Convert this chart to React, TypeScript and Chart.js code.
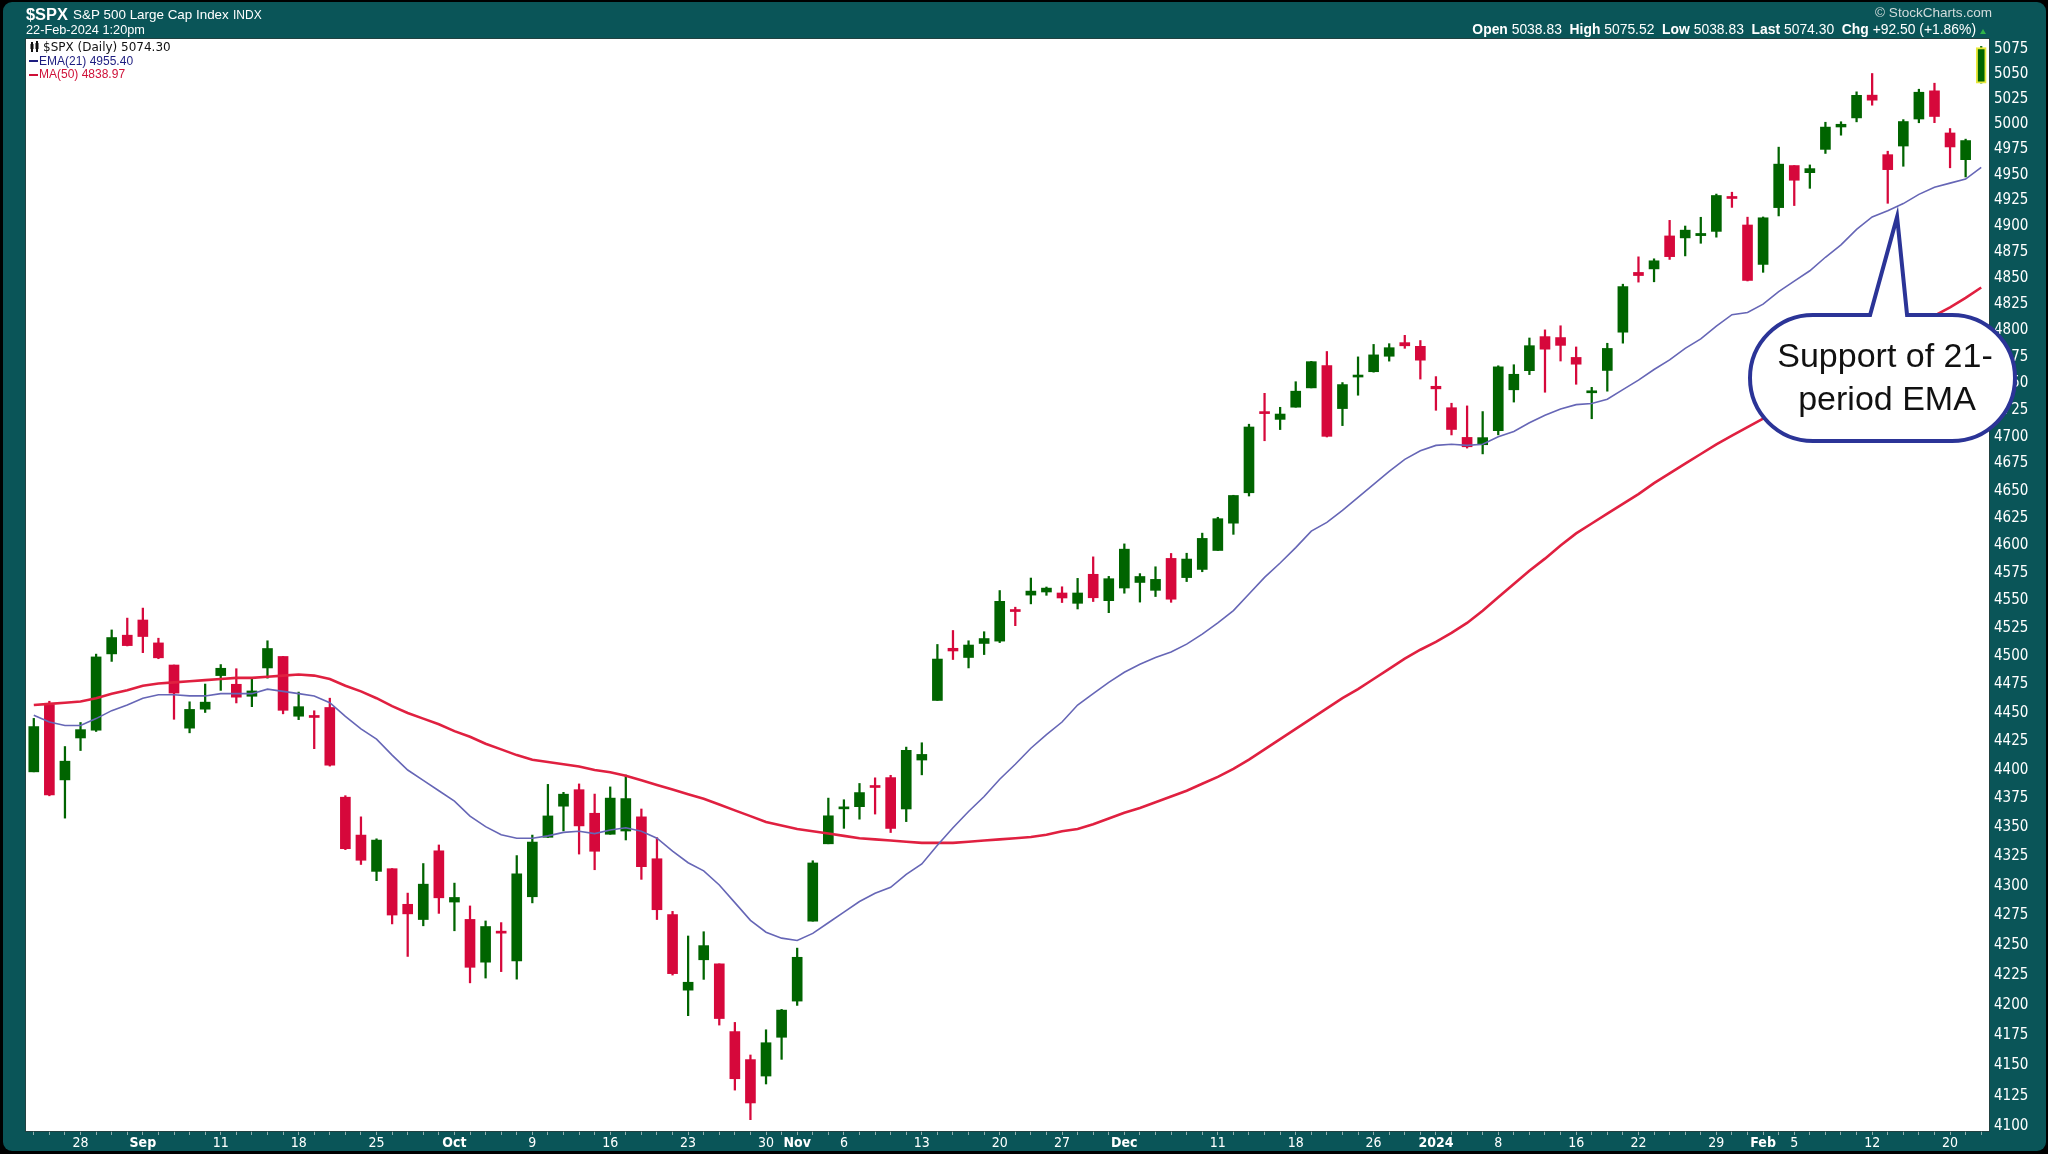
import { useEffect, useRef } from 'react';
import { Chart, registerables } from 'chart.js';
Chart.register(...registerables);

// ---------------- DATA ----------------
const dates = ['Aug 23','Aug 24','Aug 25','Aug 28','Aug 29','Aug 30','Aug 31','Sep 1','Sep 5','Sep 6','Sep 7','Sep 8','Sep 11','Sep 12','Sep 13','Sep 14','Sep 15','Sep 18','Sep 19','Sep 20','Sep 21','Sep 22','Sep 25','Sep 26','Sep 27','Sep 28','Sep 29','Oct 2','Oct 3','Oct 4','Oct 5','Oct 6','Oct 9','Oct 10','Oct 11','Oct 12','Oct 13','Oct 16','Oct 17','Oct 18','Oct 19','Oct 20','Oct 23','Oct 24','Oct 25','Oct 26','Oct 27','Oct 30','Oct 31','Nov 1','Nov 2','Nov 3','Nov 6','Nov 7','Nov 8','Nov 9','Nov 10','Nov 13','Nov 14','Nov 15','Nov 16','Nov 17','Nov 20','Nov 21','Nov 22','Nov 24','Nov 27','Nov 28','Nov 29','Nov 30','Dec 1','Dec 4','Dec 5','Dec 6','Dec 7','Dec 8','Dec 11','Dec 12','Dec 13','Dec 14','Dec 15','Dec 18','Dec 19','Dec 20','Dec 21','Dec 22','Dec 26','Dec 27','Dec 28','Dec 29','Jan 2','Jan 3','Jan 4','Jan 5','Jan 8','Jan 9','Jan 10','Jan 11','Jan 12','Jan 16','Jan 17','Jan 18','Jan 19','Jan 22','Jan 23','Jan 24','Jan 25','Jan 26','Jan 29','Jan 30','Jan 31','Feb 1','Feb 2','Feb 5','Feb 6','Feb 7','Feb 8','Feb 9','Feb 12','Feb 13','Feb 14','Feb 15','Feb 16','Feb 20','Feb 21','Feb 22'];

const open = [
  4396.4, 4455.2, 4389.4, 4426.0, 4432.8, 4500.3, 4517.0,
  4530.6, 4510.1, 4490.4, 4434.6, 4451.3, 4481.0, 4473.3, 4462.7, 4487.8, 4498.0, 4445.1, 4445.4, 4452.8, 4374.4, 4341.7, 4310.6, 4312.9, 4282.6, 4269.7, 4328.2,
  4284.5, 4269.8, 4233.8, 4259.3, 4234.8, 4289.0, 4339.8, 4366.6, 4380.9, 4360.5, 4342.4, 4345.2, 4357.4, 4321.4, 4273.9, 4210.4, 4235.8, 4232.4, 4176.0, 4152.9, 4139.4, 4171.3,
  4201.3, 4268.3, 4334.2, 4364.3, 4366.2, 4384.4, 4391.4, 4364.2, 4406.7, 4459.0, 4505.3, 4497.1, 4509.6, 4511.7, 4538.8, 4553.0, 4555.8, 4554.9, 4545.6, 4571.8, 4548.0,
  4559.4, 4564.4, 4557.3, 4586.2, 4568.8, 4576.2, 4593.4, 4618.3, 4646.2, 4721.0, 4714.2, 4725.6, 4743.7, 4764.7, 4724.3, 4753.9, 4758.9, 4773.5, 4786.4, 4782.9,
  4745.2, 4725.1, 4697.4, 4690.6, 4703.7, 4741.9, 4759.9, 4792.1, 4791.2, 4772.4, 4739.1, 4760.1, 4796.3, 4853.4, 4856.8, 4888.6, 4886.7, 4888.9, 4893.0, 4925.9, 4899.2,
  4861.1, 4916.1, 4957.2, 4950.2, 4973.1, 4995.2, 5004.2, 5026.8, 4967.9, 4976.4, 5003.1, 5031.1, 4989.3, 4963.0, 5038.83,
];
const high = [
  4443.2, 4458.3, 4418.5, 4439.6, 4500.1, 4521.7, 4532.3,
  4541.3, 4514.3, 4490.4, 4457.8, 4473.5, 4490.8, 4487.1, 4479.4, 4512.0, 4498.0, 4466.4, 4449.9, 4461.0, 4375.7, 4357.4, 4338.5, 4313.0, 4292.1, 4317.3, 4333.2,
  4300.6, 4281.2, 4268.5, 4267.1, 4324.1, 4341.7, 4385.5, 4378.6, 4385.9, 4377.1, 4383.3, 4393.6, 4364.2, 4339.5, 4276.6, 4255.8, 4259.4, 4232.4, 4183.6, 4156.7, 4177.5, 4194.4,
  4245.6, 4319.7, 4373.6, 4372.2, 4386.3, 4391.2, 4393.4, 4418.0, 4421.8, 4508.7, 4521.2, 4512.0, 4520.1, 4557.1, 4542.1, 4568.4, 4560.3, 4560.5, 4568.1, 4587.6, 4569.9,
  4599.4, 4572.4, 4578.6, 4590.7, 4590.9, 4609.2, 4623.7, 4643.9, 4709.7, 4738.6, 4725.5, 4749.5, 4768.7, 4778.0, 4748.7, 4772.9, 4784.7, 4785.4, 4793.3, 4788.4,
  4754.3, 4729.3, 4726.8, 4721.5, 4764.5, 4765.5, 4790.8, 4798.5, 4802.4, 4782.3, 4744.2, 4785.8, 4842.1, 4868.4, 4866.5, 4903.7, 4898.2, 4906.7, 4929.3, 4931.1, 4906.8,
  4907.0, 4975.3, 4957.2, 4957.8, 4999.9, 5000.4, 5030.1, 5048.4, 4971.3, 5002.5, 5032.7, 5038.7, 4993.7, 4983.2, 5075.52,
];
const low = [
  4396.4, 4375.6, 4356.3, 4415.0, 4431.7, 4493.6, 4507.4,
  4501.4, 4496.0, 4442.4, 4430.5, 4448.4, 4467.9, 4456.8, 4453.5, 4478.7, 4447.2, 4442.1, 4416.6, 4401.4, 4329.2, 4316.5, 4302.7, 4266.0, 4238.6, 4264.4, 4274.9,
  4260.2, 4216.5, 4220.5, 4225.9, 4219.6, 4283.8, 4339.6, 4345.3, 4325.4, 4312.0, 4342.4, 4337.5, 4303.8, 4269.7, 4223.0, 4189.2, 4219.4, 4181.4, 4127.9, 4103.8, 4132.9, 4153.1,
  4197.7, 4268.3, 4334.2, 4347.5, 4355.4, 4359.8, 4343.9, 4353.3, 4393.8, 4459.0, 4495.3, 4487.8, 4499.7, 4510.4, 4525.5, 4545.1, 4552.8, 4546.3, 4540.5, 4547.2, 4537.2,
  4554.7, 4546.7, 4551.7, 4546.5, 4565.2, 4574.1, 4593.4, 4608.1, 4643.2, 4694.3, 4704.7, 4725.6, 4743.7, 4697.8, 4708.4, 4736.8, 4758.5, 4768.9, 4781.0, 4752.0,
  4722.7, 4699.7, 4687.5, 4682.1, 4699.8, 4730.4, 4756.2, 4739.6, 4769.0, 4747.1, 4714.8, 4740.6, 4785.9, 4844.1, 4844.4, 4865.9, 4869.3, 4881.5, 4887.4, 4916.3, 4845.2,
  4853.5, 4908.0, 4918.1, 4934.9, 4969.1, 4987.1, 5000.3, 5016.8, 4920.3, 4956.5, 4999.4, 4999.5, 4955.0, 4946.0, 5038.83,
];
const close = [
  4436.0, 4376.3, 4405.7, 4433.3, 4497.6, 4514.9, 4507.7,
  4515.8, 4496.8, 4465.5, 4451.1, 4457.5, 4487.5, 4461.9, 4467.4, 4505.1, 4450.3, 4453.5, 4444.0, 4402.2, 4330.0, 4320.1, 4337.4, 4273.5, 4274.5, 4299.7, 4288.1,
  4288.4, 4229.5, 4263.8, 4258.2, 4308.5, 4335.7, 4358.2, 4377.0, 4349.6, 4327.8, 4373.6, 4373.2, 4314.6, 4278.0, 4224.2, 4217.0, 4247.7, 4186.8, 4137.2, 4117.4, 4166.8, 4193.8,
  4237.9, 4317.8, 4358.3, 4366.0, 4378.4, 4382.8, 4347.4, 4415.2, 4411.6, 4495.7, 4502.9, 4508.2, 4514.0, 4547.4, 4538.2, 4556.6, 4559.3, 4550.4, 4554.9, 4550.6, 4567.8,
  4594.6, 4569.8, 4567.2, 4549.3, 4585.6, 4604.4, 4622.4, 4643.7, 4707.1, 4719.6, 4719.2, 4740.6, 4768.4, 4698.4, 4746.8, 4754.6, 4774.8, 4781.6, 4783.4, 4769.8,
  4742.8, 4704.8, 4688.7, 4697.2, 4763.5, 4756.5, 4783.5, 4780.2, 4783.8, 4766.0, 4739.2, 4780.9, 4839.8, 4850.4, 4864.6, 4868.6, 4894.2, 4891.0, 4927.9, 4925.0, 4845.7,
  4906.2, 4958.6, 4942.8, 4954.2, 4995.1, 4997.9, 5026.6, 5021.8, 4953.2, 5000.6, 5029.7, 5005.6, 4975.5, 4981.8, 5074.3,
];
const ema21 = [
  4446, 4440, 4437, 4437, 4443, 4450, 4455, 4461, 4464, 4464,
  4463, 4463, 4465, 4465, 4465, 4469, 4467, 4465, 4463, 4457,
  4445, 4434, 4425, 4411, 4398, 4389, 4380, 4371, 4358, 4349,
  4342, 4339, 4339, 4341, 4344, 4345, 4343, 4346, 4348, 4345,
  4339, 4328, 4318, 4311, 4299, 4284, 4269, 4259, 4254, 4252,
  4258, 4267, 4276, 4285, 4292, 4297, 4308, 4317, 4333, 4348,
  4362, 4375, 4390, 4403, 4417, 4429, 4440, 4455, 4465, 4475,
  4484, 4491, 4497, 4502, 4509, 4518, 4528, 4539, 4554, 4569,
  4582, 4596, 4611, 4619, 4630, 4642, 4654, 4666, 4677, 4685,
  4690, 4691, 4690, 4691, 4698, 4703, 4711, 4718, 4724, 4728,
  4729, 4733, 4742, 4751, 4761, 4770, 4781, 4790, 4802, 4813,
  4815, 4823, 4835, 4845, 4855, 4868, 4880, 4895, 4907, 4913,
  4920, 4929, 4936, 4940, 4944, 4955.4,
];
const ma50 = [
  4455, 4456, 4457, 4458, 4461, 4465, 4468, 4472, 4474, 4475,
  4476, 4477, 4478, 4479, 4479, 4480, 4481, 4482, 4481, 4478,
  4472, 4467, 4461, 4454, 4448, 4443, 4438, 4432, 4427, 4421,
  4416, 4411, 4407, 4405, 4403, 4401, 4398, 4396, 4393, 4389,
  4385, 4381, 4377, 4373, 4368, 4363, 4358, 4353, 4350, 4347,
  4345, 4343, 4341, 4339, 4338, 4337, 4336, 4335, 4335, 4335,
  4336, 4337, 4338, 4339, 4340, 4342, 4345, 4347, 4351, 4356,
  4361, 4365, 4370, 4375, 4380, 4386, 4392, 4399, 4407, 4416,
  4425, 4434, 4443, 4452, 4461, 4469, 4478, 4487, 4496, 4504,
  4511, 4519, 4528, 4539, 4551, 4563, 4575, 4586, 4598, 4609,
  4618, 4627, 4636, 4645, 4655, 4664, 4673, 4682, 4691, 4699,
  4707, 4715, 4724, 4733, 4741, 4750, 4759, 4768, 4777, 4786,
  4795, 4803, 4812, 4820, 4829, 4838.97,
];
const xTickIndex = [3, 7, 12, 17, 22, 27, 32, 37, 42, 47, 49, 52, 57, 62, 66, 70, 76, 81, 86, 90, 94, 99, 103, 108, 111, 113, 118, 123];
const xTickText = ['28', 'Sep', '11', '18', '25', 'Oct', '9', '16', '23', '30', 'Nov', '6', '13', '20', '27', 'Dec', '11', '18', '26', '2024', '8', '16', '22', '29', 'Feb', '5', '12', '20'];
const xTickBold = [false, true, false, false, false, true, false, false, false, false, true, false, false, false, false, true, false, false, false, true, false, false, false, false, true, false, false, false];
const yTicks = [4100, 4125, 4150, 4175, 4200, 4225, 4250, 4275, 4300, 4325, 4350, 4375, 4400, 4425, 4450, 4475, 4500, 4525, 4550, 4575, 4600, 4625, 4650, 4675, 4700, 4725, 4750, 4775, 4800, 4825, 4850, 4875, 4900, 4925, 4950, 4975, 5000, 5025, 5050, 5075];
const Y_MIN = 4094.6;
const Y_MAX = 5083;
const SYMBOL = '$SPX';
const NAME = 'S&P 500 Large Cap Index';
const EXCH = 'INDX';
const STAMP = '22-Feb-2024 1:20pm';
const NOTE_LINES = ['Support of 21-', 'period EMA'];
const NOTE_TIP_INDEX = 119.6;
const NOTE_TIP_VALUE = 4909;

// ---------------- STYLE ----------------
const GREEN = '#006400';
const RED = '#d6083b';
const TEAL = '#0a5558';
const EMA_COLOR = '#6666b6';
const MA_COLOR = '#e02040';
const BUBBLE = '#2b3497';
const SANS = '"Liberation Sans", Arial, sans-serif';
const NARROW = '"Liberation Sans Narrow", "Arial Narrow", "DejaVu Sans Condensed", "Liberation Sans", Arial, sans-serif';

type Part = { t: string; bold?: boolean; color?: string };

function fitSize(ctx: CanvasRenderingContext2D, parts: Part[], family: string, base: number, target: number) {
  let w = 0;
  for (const p of parts) {
    ctx.font = `${p.bold ? 'bold ' : ''}${base}px ${family}`;
    w += ctx.measureText(p.t).width;
  }
  return (base * target) / w;
}

function drawParts(ctx: CanvasRenderingContext2D, parts: Part[], family: string, size: number, x: number, y: number, align: 'left' | 'right') {
  let total = 0;
  const widths: number[] = [];
  for (const p of parts) {
    ctx.font = `${p.bold ? 'bold ' : ''}${size}px ${family}`;
    const w = ctx.measureText(p.t).width;
    widths.push(w);
    total += w;
  }
  let cx = align === 'left' ? x : x - total;
  ctx.textAlign = 'left';
  ctx.textBaseline = 'middle';
  parts.forEach((p, i) => {
    ctx.font = `${p.bold ? 'bold ' : ''}${size}px ${family}`;
    ctx.fillStyle = p.color || '#fff';
    ctx.fillText(p.t, cx, y);
    cx += widths[i];
  });
}

export default function App() {
  const ref = useRef<HTMLCanvasElement>(null);
  useEffect(() => {
    document.body.style.margin = '0';
    const canvas = ref.current!;
    const last = close.length - 1;
    const up = close.map((c, i) => c >= open[i]);
    const colors = up.map((u) => (u ? GREEN : RED));
    const bodies = open.map((o, i) => [Math.min(o, close[i]), Math.max(o, close[i])]);
    const wicks = low.map((l, i) => [l, high[i]]);
    const tickMap: Record<number, { t: string; b: boolean }> = {};
    xTickIndex.forEach((ix, k) => (tickMap[ix] = { t: xTickText[k], b: xTickBold[k] }));

    const framePlugin = {
      id: 'frame',
      beforeDraw(chart: any) {
        const { ctx, chartArea: a } = chart;
        const W = chart.width, H = chart.height;
        ctx.save();
        ctx.fillStyle = '#000';
        ctx.fillRect(0, 0, W, H);
        ctx.fillStyle = TEAL;
        ctx.beginPath();
        (ctx as any).roundRect(3, 2, W - 5, H - 5, 9);
        ctx.fill();
        ctx.fillStyle = '#fff';
        ctx.fillRect(a.left, a.top, a.right - a.left, a.bottom - a.top);

        // header left
        const s1 = fitSize(ctx, [{ t: SYMBOL, bold: true }], SANS, 16, 42);
        drawParts(ctx, [{ t: SYMBOL, bold: true }], SANS, s1, 26, 15, 'left');
        const s2 = fitSize(ctx, [{ t: NAME }], SANS, 13, 156);
        drawParts(ctx, [{ t: NAME }], SANS, s2, 73, 15.5, 'left');
        drawParts(ctx, [{ t: EXCH }], SANS, 12, 233, 15.5, 'left');
        const s3 = fitSize(ctx, [{ t: STAMP }], SANS, 13, 119);
        drawParts(ctx, [{ t: STAMP }], SANS, s3, 26, 30, 'left');

        // header right
        const sc = [{ t: '\u00A9 StockCharts.com', color: '#d2dcdc' }];
        const s4 = fitSize(ctx, sc, SANS, 12, 117);
        drawParts(ctx, sc, SANS, s4, 1992, 13, 'right');
        const chg = close[last] - close[last - 1];
        const pct = (chg / close[last - 1]) * 100;
        const sign = chg >= 0 ? '+' : '';
        const ohlc: Part[] = [
          { t: 'Open', bold: true }, { t: ' ' + open[last].toFixed(2) + '  ' },
          { t: 'High', bold: true }, { t: ' ' + high[last].toFixed(2) + '  ' },
          { t: 'Low', bold: true }, { t: ' ' + low[last].toFixed(2) + '  ' },
          { t: 'Last', bold: true }, { t: ' ' + close[last].toFixed(2) + '  ' },
          { t: 'Chg', bold: true }, { t: ` ${sign}${chg.toFixed(2)} (${sign}${pct.toFixed(2)}%)` },
        ];
        const s5 = fitSize(ctx, ohlc, SANS, 13, 504);
        drawParts(ctx, ohlc, SANS, s5, 1976, 30.5, 'right');
        ctx.fillStyle = '#2fb34a';
        ctx.beginPath();
        ctx.moveTo(1980, 34); ctx.lineTo(1986, 34); ctx.lineTo(1983, 29); ctx.closePath();
        ctx.fill();
        ctx.restore();
      },
      afterDatasetsDraw(chart: any) {
        const { ctx, chartArea: a } = chart;
        ctx.save();
        ctx.strokeStyle = 'rgba(40,60,60,0.8)';
        ctx.lineWidth = 1;
        ctx.strokeRect(a.left - 0.5, a.top - 0.5, a.right - a.left + 1, a.bottom - a.top + 1);
        // legend
        ctx.fillStyle = '#111';
        ctx.fillRect(31, 42, 2, 10);
        ctx.fillRect(30.5, 44, 3, 5);
        ctx.fillRect(36, 41, 2, 11);
        ctx.fillRect(35.5, 43, 3, 6);
        ctx.fillStyle = '#111';
        ctx.font = `12px "DejaVu Sans", Verdana, sans-serif`;
        ctx.textBaseline = 'middle';
        ctx.textAlign = 'left';
        ctx.fillText(`${SYMBOL} (Daily) ${close[last].toFixed(2)}`, 43, 47.5);
        ctx.fillStyle = '#1d1d80';
        ctx.fillRect(29, 60, 9, 2);
        ctx.font = `12px ${SANS}`;
        ctx.fillText(`EMA(21) ${ema21[last].toFixed(2)}`, 39, 61.5);
        ctx.fillStyle = '#cf1038';
        ctx.fillRect(29, 74, 9, 2);
        ctx.fillText(`MA(50) ${ma50[last].toFixed(2)}`, 39, 75);
        ctx.restore();
      },
      afterDraw(chart: any) {
        const { ctx } = chart;
        const xs = chart.scales.x, ys = chart.scales.y;
        const tipX = xs.getPixelForValue(NOTE_TIP_INDEX);
        const tipY = ys.getPixelForValue(NOTE_TIP_VALUE) + 2;
        const x0 = 1750, x1 = 2015, y0 = 315, y1 = 441;
        const r = (y1 - y0) / 2;
        ctx.save();
        ctx.beginPath();
        ctx.moveTo(x0 + r, y0);
        ctx.lineTo(tipX - 27, y0);
        ctx.lineTo(tipX, tipY);
        ctx.lineTo(tipX + 10, y0);
        ctx.lineTo(x1 - r, y0);
        ctx.arc(x1 - r, y0 + r, r, -Math.PI / 2, Math.PI / 2);
        ctx.lineTo(x0 + r, y1);
        ctx.arc(x0 + r, y0 + r, r, Math.PI / 2, (3 * Math.PI) / 2);
        ctx.closePath();
        ctx.fillStyle = '#fff';
        ctx.fill();
        ctx.strokeStyle = BUBBLE;
        ctx.lineWidth = 4;
        ctx.lineJoin = 'miter';
        ctx.stroke();
        ctx.fillStyle = '#111';
        ctx.font = `34px ${SANS}`;
        ctx.textAlign = 'center';
        ctx.textBaseline = 'middle';
        ctx.fillText(NOTE_LINES[0], 1885, 358);
        ctx.fillText(NOTE_LINES[1], 1887, 401);
        ctx.restore();
      },
    };

    const chart = new Chart(canvas, {
      type: 'bar',
      data: {
        labels: dates,
        datasets: [
          {
            type: 'line', label: 'EMA(21)', data: ema21, borderColor: EMA_COLOR, borderWidth: 1.6,
            pointRadius: 0, tension: 0, order: 0,
          } as any,
          {
            type: 'line', label: 'MA(50)', data: ma50, borderColor: MA_COLOR, borderWidth: 2.6,
            pointRadius: 0, tension: 0, order: 1,
          } as any,
          {
            type: 'bar', label: 'body', data: bodies as any, backgroundColor: colors,
            borderColor: colors.map((c, i) => (i === last ? '#e8e83a' : c)),
            borderWidth: colors.map((_, i) => (i === last ? 2 : 0)),
            borderSkipped: false, barThickness: 10, minBarLength: 2, grouped: false, order: 2,
          } as any,
          {
            type: 'bar', label: 'wick', data: wicks as any, backgroundColor: colors,
            borderWidth: 0, barThickness: 1.6, grouped: false, order: 3,
          } as any,
        ],
      },
      options: {
        responsive: false,
        animation: false,
        devicePixelRatio: 1,
        events: [],
        layout: { padding: { left: 26, top: 39, right: 0, bottom: 0 } },
        plugins: { legend: { display: false }, tooltip: { enabled: false } },
        scales: {
          x: {
            type: 'category',
            offset: true,
            grid: { display: true, drawOnChartArea: false, drawTicks: true, tickLength: 4, color: 'rgba(175,195,195,0.8)', offset: false },
            border: { display: false },
            ticks: {
              autoSkip: false, maxRotation: 0, minRotation: 0, padding: 0, color: '#fff',
              font: (c: any) => ({ family: NARROW, size: 14, weight: tickMap[c.index] && tickMap[c.index].b ? 'bold' : 'normal' }),
              callback: (_v: any, i: number) => (tickMap[i] ? tickMap[i].t : ''),
            },
            afterFit: (s: any) => { s.height = 23; },
          },
          y: {
            type: 'logarithmic',
            position: 'right',
            min: Y_MIN,
            max: Y_MAX,
            bounds: 'data',
            grid: { display: false, drawTicks: false },
            border: { display: false },
            afterBuildTicks: (s: any) => { s.ticks = yTicks.map((v) => ({ value: v })); },
            ticks: { color: '#fff', padding: 5, labelOffset: 2, font: { family: NARROW, size: 15 }, callback: (v: any) => String(v) },
            afterFit: (s: any) => { s.width = 59; },
          },
        },
      } as any,
      plugins: [framePlugin],
    });
    return () => chart.destroy();
  }, []);
  return (
    <div style={{ width: 2048, height: 1154, background: '#000' }}>
      <canvas ref={ref} width={2048} height={1154} style={{ display: 'block', width: 2048, height: 1154 }} />
    </div>
  );
}
